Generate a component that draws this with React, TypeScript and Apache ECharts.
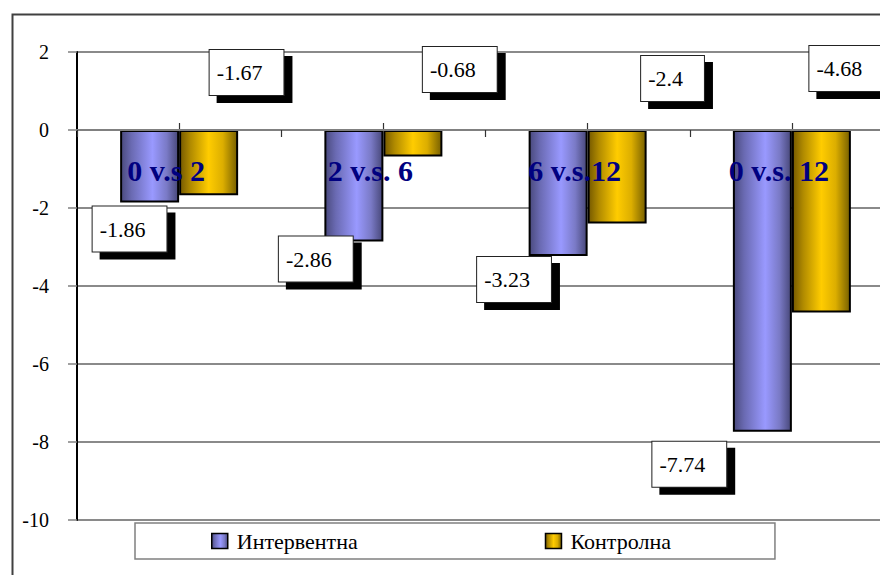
import React, { useEffect, useRef } from 'react';
import * as echarts from 'echarts';

// ---- data ----
const categories = ['0 v.s 2', '2 v.s. 6', '6 v.s.12', '0 v.s. 12'];
const seriesNames = ['Интервентна', 'Контролна'];
const intervention = [-1.86, -2.86, -3.23, -7.74];
const control = [-1.67, -0.68, -2.4, -4.68];
const yMin = -10;
const yMax = 2;
const yInterval = 2;

// ---- label placement (style only) ----
const interventionLabelOffsets = [[-57, 4], [-75, -5], [-81, 1], [-110, 10]];
const controlLabelOffsets = [[1, -80], [10, -83], [24, -74], [-12, -84]];

const SERIF = "'Liberation Serif', 'Times New Roman', serif";

const blueGrad = () =>
  new echarts.graphic.LinearGradient(0, 0, 1, 0, [
    { offset: 0, color: '#4a4a7e' },
    { offset: 0.18, color: '#6a6ab2' },
    { offset: 0.55, color: '#9999ff' },
    { offset: 0.8, color: '#7a7ac6' },
    { offset: 1, color: '#48487a' },
  ]);
const goldGrad = () =>
  new echarts.graphic.LinearGradient(0, 0, 1, 0, [
    { offset: 0, color: '#765a00' },
    { offset: 0.18, color: '#b08a00' },
    { offset: 0.5, color: '#ffcc00' },
    { offset: 0.75, color: '#dcae00' },
    { offset: 1, color: '#786000' },
  ]);

const boxLabel = {
  show: true,
  distance: 0,
  align: 'left',
  verticalAlign: 'top',
  fontFamily: SERIF,
  fontSize: 22,
  lineHeight: 21,
  color: '#000',
  backgroundColor: '#fff',
  borderColor: '#222',
  borderWidth: 1,
  padding: [12, 21, 12, 7],
  shadowColor: '#000',
  shadowBlur: 0,
  shadowOffsetX: 8,
  shadowOffsetY: 7,
  formatter: (p: any) => String(p.value),
};

export default function App() {
  const ref = useRef<HTMLDivElement>(null);
  useEffect(() => {
    document.body.style.margin = '0';
    const chart = echarts.init(ref.current!, undefined, { renderer: 'svg' });
    chart.setOption({
      animation: false,
      backgroundColor: '#fff',
      graphic: [
        {
          type: 'rect',
          left: 10,
          top: 12,
          shape: { width: 900, height: 600 },
          style: { fill: 'none', stroke: '#404040', lineWidth: 2 },
          silent: true,
        },
      ],
      grid: {
        left: 77,
        width: 817,
        top: 52,
        height: 468,
        containLabel: false,
        outerBoundsMode: 'none',
      },
      legend: {
        left: 135,
        top: 523,
        data: seriesNames,
        icon: 'rect',
        itemWidth: 16,
        itemHeight: 15,
        itemGap: 187,
        borderColor: '#808080',
        borderWidth: 1.5,
        padding: [7, 104, 7, 76],
        textStyle: { fontFamily: SERIF, fontSize: 22, color: '#000', padding: [0, 0, 0, 4] },
        itemStyle: { borderColor: '#000', borderWidth: 1.5 },
      },
      xAxis: [
        {
          // zero line with boundary ticks
          type: 'category',
          data: categories,
          position: 'bottom',
          offset: -390,
          z: 5,
          axisLine: { onZero: false, lineStyle: { color: '#808080', width: 2 } },
          axisTick: { show: true, interval: 0, length: 7, lineStyle: { color: '#333', width: 1.2 } },
          axisLabel: { show: false },
        },
        {
          // category names
          type: 'category',
          data: categories,
          position: 'top',
          z: 6,
          axisLine: { show: false, onZero: false },
          axisTick: { show: false },
          splitLine: { show: false },
          axisLabel: {
            inside: true,
            margin: 103,
            fontFamily: SERIF,
            fontSize: 30,
            fontWeight: 'bold',
            color: '#000080',
            padding: [0, 26, 0, 0],
          },
        },
        {
          // small upward ticks at category centres
          type: 'category',
          data: categories,
          position: 'bottom',
          offset: -390,
          z: 1,
          axisLine: { show: false, onZero: false },
          axisTick: {
            show: true,
            interval: 0,
            alignWithLabel: true,
            inside: true,
            length: 7,
            lineStyle: { color: '#333', width: 1.2 },
          },
          axisLabel: { show: false },
          splitLine: { show: false },
        },
      ],
      yAxis: {
        type: 'value',
        min: yMin,
        max: yMax,
        interval: yInterval,
        axisLine: { show: true, onZero: false, lineStyle: { color: '#000', width: 2 } },
        axisTick: { show: true, length: 9, lineStyle: { color: '#808080', width: 1.5 } },
        axisLabel: { margin: 28, fontFamily: SERIF, fontSize: 20, color: '#000' },
        splitLine: { show: true, lineStyle: { color: '#8a8a8a', width: 2 } },
      },
      series: [
        {
          name: seriesNames[0],
          type: 'bar',
          xAxisIndex: 0,
          barWidth: 59,
          barGap: '0%',
          itemStyle: { color: blueGrad(), borderColor: '#000', borderWidth: 2 },
          label: { ...boxLabel, position: 'bottom' },
          data: intervention.map((v, i) => ({
            value: v,
            label: { offset: interventionLabelOffsets[i] },
          })),
        },
        {
          name: seriesNames[1],
          type: 'bar',
          xAxisIndex: 0,
          barWidth: 59,
          barGap: '0%',
          itemStyle: { color: goldGrad(), borderColor: '#000', borderWidth: 2 },
          label: { ...boxLabel, position: 'top' },
          data: control.map((v, i) => ({
            value: v,
            label: { offset: controlLabelOffsets[i] },
          })),
        },
      ],
    });
    return () => chart.dispose();
  }, []);
  return (
    <div
      ref={ref}
      style={{ position: 'fixed', left: 0, top: 0, width: 880, height: 575, background: '#fff' }}
    />
  );
}
